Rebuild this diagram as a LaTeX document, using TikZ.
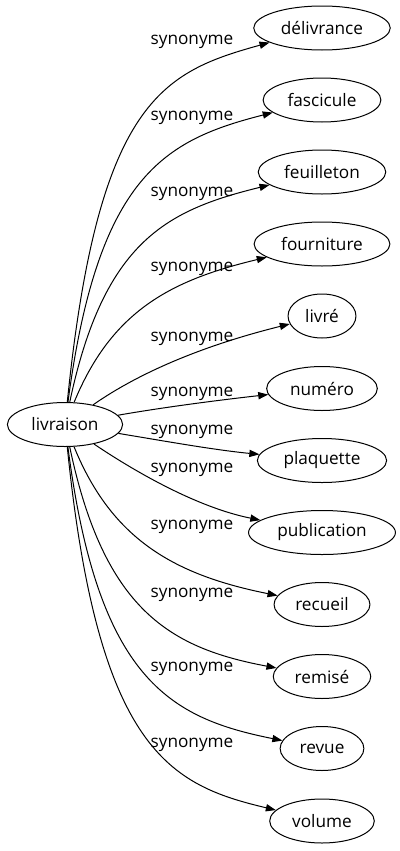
\documentclass[tikz,border=0pt]{standalone}
\usepackage{fontspec}
\setmainfont{Open Sans}
\usetikzlibrary{shapes.geometric,arrows.meta}

\tikzset{
  word/.style={draw, ellipse, inner xsep=3.6pt, inner ysep=0pt, minimum height=22pt, minimum width=33pt, font=\fontsize{8.6}{10}\selectfont},
  syn/.style={font=\fontsize{8.6}{10}\selectfont},
  arr/.style={-{Triangle[length=5pt,width=3.6pt]}, line width=0.5pt}
}

\begin{document}
\begin{tikzpicture}[x=0.5pt, y=-0.5pt, line width=0.5pt]
                \useasboundingbox (0,0) rectangle (400,851);

                \node[word] (liv) at (65, 424.5) {livraison};

                \node[word] (del) at (322, 28) {délivrance};
                \node[word] (fas) at (322, 100) {fascicule};
                \node[word] (feu) at (322, 172) {feuilleton};
                \node[word] (fou) at (322, 244) {fourniture};
                \node[word] (livre) at (322, 316) {livré};
                \node[word] (num) at (322, 388.5) {numéro};
                \node[word] (pla) at (322, 460.5) {plaquette};
                \node[word] (pub) at (322, 532.5) {publication};
                \node[word] (rec) at (322, 604.5) {recueil};
                \node[word] (rem) at (322, 676.5) {remisé};
                \node[word] (rev) at (322, 748.5) {revue};
                \node[word] (vol) at (322, 821) {volume};

                \draw[arr] (liv) .. controls (98,100) and (163,72) .. (del);
                \draw[arr] (liv) .. controls (98,175) and (165,140) .. (fas);
                \draw[arr] (liv) .. controls (104,240) and (168,210) .. (feu);
                \draw[arr] (liv) .. controls (112,310) and (172,280) .. (fou);
                \draw[arr] (liv) .. controls (140,372) and (205,345) .. (livre);
                \draw[arr] (liv) .. controls (165,407) and (220,400) .. (num);
                \draw[arr] (liv) .. controls (170,442) and (215,450) .. (pla);
                \draw[arr] (liv) .. controls (140,475) and (200,508) .. (pub);
                \draw[arr] (liv) .. controls (112,540) and (175,575) .. (rec);
                \draw[arr] (liv) .. controls (104,610) and (170,648) .. (rem);
                \draw[arr] (liv) .. controls (98,680) and (170,718) .. (rev);
                \draw[arr] (liv) .. controls (98,751) and (170,785) .. (vol);

                \node[syn] (s1) at (192, 42) {synonyme};
                \node[syn] (s2) at (192, 118) {synonyme};
                \node[syn] (s3) at (192, 194) {synonyme};
                \node[syn] (s4) at (192, 269) {synonyme};
                \node[syn] (s5) at (192, 339) {synonyme};
                \node[syn] (s6) at (192, 394) {synonyme};
                \node[syn] (s7) at (192, 432) {synonyme};
                \node[syn] (s8) at (192, 470) {synonyme};
                \node[syn] (s9) at (192, 527) {synonyme};
                \node[syn] (s10) at (192, 595) {synonyme};
                \node[syn] (s11) at (192, 669) {synonyme};
                \node[syn] (s12) at (192, 745) {synonyme};
\end{tikzpicture}
\end{document}
